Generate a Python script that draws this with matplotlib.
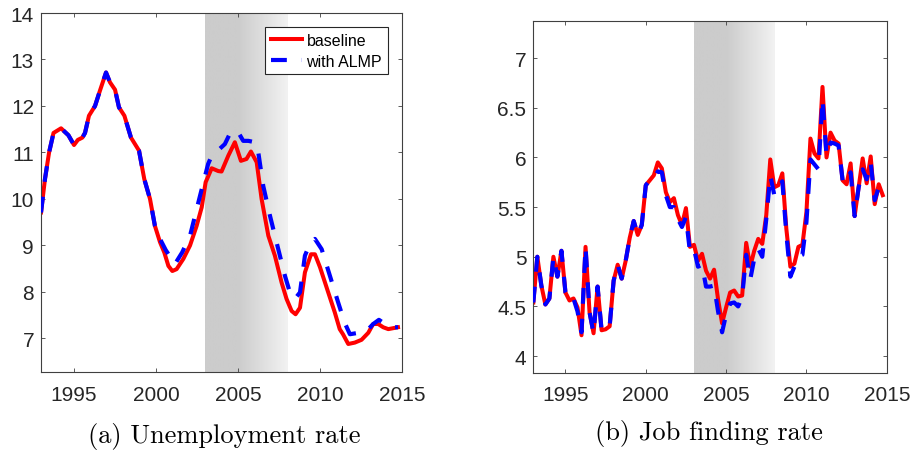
#!/usr/bin/env python3
"""Unemployment rate and job finding rate, baseline vs. with ALMP."""

import numpy as np
import matplotlib

matplotlib.use("Agg")
import matplotlib.pyplot as plt

# (a) unemployment rate
UNEMP_BASE_YEARS = [
    1993.0, 1993.24, 1993.49, 1993.76, 1994.22, 1994.67, 1995.01, 1995.24, 1995.52, 1995.68,
    1995.92, 1996.29, 1996.59, 1996.96, 1997.2, 1997.51, 1997.75, 1998.08, 1998.48, 1998.97,
    1999.29, 1999.64, 1999.94, 2000.25, 2000.51, 2000.76, 2001.0, 2001.26, 2001.67, 2002.08,
    2002.48, 2002.79, 2003.03, 2003.4, 2003.8, 2004.0, 2004.41, 2004.81, 2005.18, 2005.52,
    2005.79, 2006.14, 2006.44, 2006.85, 2007.25, 2007.66, 2007.96, 2008.27, 2008.51, 2008.78,
    2009.08, 2009.45, 2009.69, 2010.0, 2010.5, 2010.9, 2011.2, 2011.4, 2011.72, 2012.12,
    2012.53, 2012.94, 2013.24, 2013.55, 2013.85, 2014.16, 2014.75,
]
UNEMP_BASE = [
    9.71, 10.43, 11.0, 11.42, 11.52, 11.37, 11.16, 11.27, 11.32, 11.42,
    11.79, 12.0, 12.33, 12.72, 12.51, 12.35, 11.97, 11.79, 11.32, 11.04,
    10.43, 10.0, 9.42, 9.07, 8.85, 8.56, 8.45, 8.49, 8.71, 9.0,
    9.42, 9.82, 10.36, 10.66, 10.6, 10.59, 10.93, 11.22, 10.82, 10.86,
    11.02, 10.79, 10.0, 9.21, 8.78, 8.2, 7.85, 7.59, 7.52, 7.66,
    8.42, 8.81, 8.81, 8.53, 7.99, 7.56, 7.2, 7.09, 6.88, 6.91,
    6.97, 7.12, 7.31, 7.31, 7.24, 7.2, 7.24,
]
UNEMP_ALMP_YEARS = [
    1993.0, 1993.24, 1993.49, 1993.76, 1994.22, 1994.67, 1995.01, 1995.24, 1995.52, 1995.68,
    1995.92, 1996.29, 1996.59, 1996.96, 1997.2, 1997.51, 1997.75, 1998.08, 1998.48, 1998.97,
    1999.29, 1999.64, 1999.94, 2000.25, 2000.6, 2001.16, 2001.6, 2002.08, 2002.69, 2003.18,
    2003.4, 2003.8, 2004.2, 2004.5, 2004.96, 2005.32, 2005.63, 2006.04, 2006.24, 2006.54,
    2006.95, 2007.35, 2007.86, 2008.2, 2008.47, 2008.78, 2009.08, 2009.4, 2009.69, 2010.1,
    2010.6, 2011.1, 2011.5, 2011.82, 2012.33, 2012.84, 2013.24, 2013.59, 2013.96, 2014.37,
    2014.75,
]
UNEMP_ALMP = [
    9.71, 10.43, 11.0, 11.42, 11.52, 11.37, 11.16, 11.27, 11.32, 11.42,
    11.79, 12.0, 12.33, 12.72, 12.51, 12.35, 11.97, 11.79, 11.32, 11.04,
    10.43, 10.0, 9.42, 9.14, 8.9, 8.6, 8.85, 9.21, 10.07, 10.75,
    10.93, 11.05, 11.18, 11.4, 11.47, 11.25, 11.25, 11.22, 11.0, 10.28,
    9.64, 9.07, 8.35, 7.95, 7.85, 7.99, 8.78, 9.05, 9.14, 8.92,
    8.35, 7.78, 7.34, 7.09, 7.12, 7.16, 7.31, 7.4, 7.31, 7.24,
    7.24,
]

# (b) job finding rate, quarterly 1993Q1-2014Q4
JFR_QUARTERS = 1993 + np.arange(88) / 4
JFR_BASE = [
    4.54, 5.0, 4.71, 4.52, 4.58, 5.0, 4.8, 5.06, 4.64, 4.56, 4.58, 4.49,
    4.21, 5.1, 4.44, 4.23, 4.7, 4.26, 4.27, 4.3, 4.76, 4.92, 4.78, 4.96,
    5.19, 5.36, 5.22, 5.32, 5.72, 5.77, 5.82, 5.95, 5.89, 5.65, 5.55, 5.59,
    5.42, 5.32, 5.49, 5.1, 5.12, 4.96, 5.03, 4.86, 4.78, 4.87, 4.57, 4.33,
    4.49, 4.64, 4.66, 4.6, 4.61, 5.14, 4.9, 5.06, 5.18, 5.13, 5.42, 5.98,
    5.7, 5.72, 5.84, 5.28, 4.9, 4.93, 5.1, 5.12, 5.45, 6.19, 6.04, 5.99,
    6.71, 6.0, 6.25, 6.17, 6.14, 5.77, 5.73, 5.94, 5.41, 5.7, 5.99, 5.74,
    6.01, 5.53, 5.73, 5.62,
]
JFR_ALMP = [
    4.54, 5.0, 4.71, 4.52, 4.58, 5.0, 4.8, 5.06, 4.64, 4.56, 4.58, 4.45,
    4.24, 5.1, 4.44, 4.23, 4.7, 4.26, 4.27, 4.3, 4.76, 4.92, 4.78, 4.96,
    5.19, 5.36, 5.22, 5.32, 5.72, 5.77, 5.77, 5.86, 5.85, 5.62, 5.5, 5.5,
    5.38, 5.3, 5.4, 5.05, 5.08, 4.9, 4.92, 4.7, 4.7, 4.71, 4.45, 4.24,
    4.42, 4.53, 4.54, 4.5, 4.6, 5.02, 4.77, 4.98, 5.08, 5.0, 5.38, 5.82,
    5.62, 5.7, 5.76, 5.23, 4.8, 4.9, 5.0, 5.02, 5.35, 5.98, 5.93, 5.88,
    6.59, 6.02, 6.15, 6.14, 6.12, 5.77, 5.74, 5.85, 5.41, 5.7, 5.88, 5.78,
    5.95, 5.57, 5.7, 5.63,
]

SHADE_START, SHADE_END = 2003.0, 2008.0
X_TICKS = [1995, 2000, 2005, 2010, 2015]
AXIS_COLOR = "#404040"
TEXT_COLOR = "#262626"
DASHES = (3.8, 3.6)


def shade(ax, ylim):
    # flat grey until 2005, then fading out towards 2008
    cols = np.linspace(SHADE_START, SHADE_END, 200)
    grey = np.where(cols < 2005.0, 0.80, 0.80 + (cols - 2005.0) / 3.0 * 0.15)
    img = np.repeat(grey[None, :, None], 3, axis=2)
    ax.imshow(img, extent=[SHADE_START, SHADE_END, ylim[0], ylim[1]],
              aspect="auto", zorder=0, interpolation="bilinear")


def style_axes(ax, xlim, ylim, yticks, ylabels):
    ax.set_xlim(*xlim)
    ax.set_ylim(*ylim)
    ax.set_xticks(X_TICKS)
    ax.set_xticklabels([str(t) for t in X_TICKS])
    ax.set_yticks(yticks)
    ax.set_yticklabels(ylabels)
    ax.tick_params(direction="in", top=True, right=True, length=3, width=0.6,
                   colors=AXIS_COLOR, labelcolor=TEXT_COLOR, labelsize=15)
    ax.tick_params(axis="x", pad=9)
    ax.tick_params(axis="y", pad=5)
    for spine in ax.spines.values():
        spine.set_color(AXIS_COLOR)
        spine.set_linewidth(0.8)


def main():
    plt.rcParams["font.family"] = ["Liberation Sans", "DejaVu Sans"]
    fig = plt.figure(figsize=(9.14, 4.52), dpi=100)

    ax1 = fig.add_axes([0.0449, 0.174, 0.395, 0.795])
    ylim1 = (6.27, 14.0)
    shade(ax1, ylim1)
    ax1.plot(UNEMP_BASE_YEARS, UNEMP_BASE, color="red", lw=2.9, label="baseline", zorder=2)
    ax1.plot(UNEMP_ALMP_YEARS, UNEMP_ALMP, color="blue", lw=3.0, dashes=DASHES,
             label="with ALMP", zorder=3)
    style_axes(ax1, (1993, 2015), ylim1, list(range(7, 15)), [str(v) for v in range(7, 15)])
    leg = ax1.legend(loc="upper right", fontsize=11.5, fancybox=False, framealpha=1,
                     edgecolor=TEXT_COLOR, handlelength=2.0, handletextpad=0.25,
                     borderpad=0.35, labelspacing=0.35, borderaxespad=0.9)
    leg.get_frame().set_linewidth(0.8)

    ax2 = fig.add_axes([0.5835, 0.1726, 0.3867, 0.779])
    ylim2 = (3.83, 7.375)
    shade(ax2, ylim2)
    ax2.plot(JFR_QUARTERS, JFR_BASE, color="red", lw=2.9, zorder=2)
    ax2.plot(JFR_QUARTERS, JFR_ALMP, color="blue", lw=3.0, dashes=DASHES, zorder=3)
    yt = [4, 4.5, 5, 5.5, 6, 6.5, 7]
    style_axes(ax2, (1993, 2015), ylim2, yt, [f"{v:g}" for v in yt])

    fig.text(224 / 914, 1 - 437 / 452, "(a) Unemployment rate", family="cmr10",
             fontsize=19, ha="center", va="center", color="black")
    fig.text(709 / 914, 1 - 434 / 452, "(b) Job finding rate", family="cmr10",
             fontsize=19, ha="center", va="center", color="black")

    fig.savefig("out.png", dpi=100)


if __name__ == "__main__":
    main()
